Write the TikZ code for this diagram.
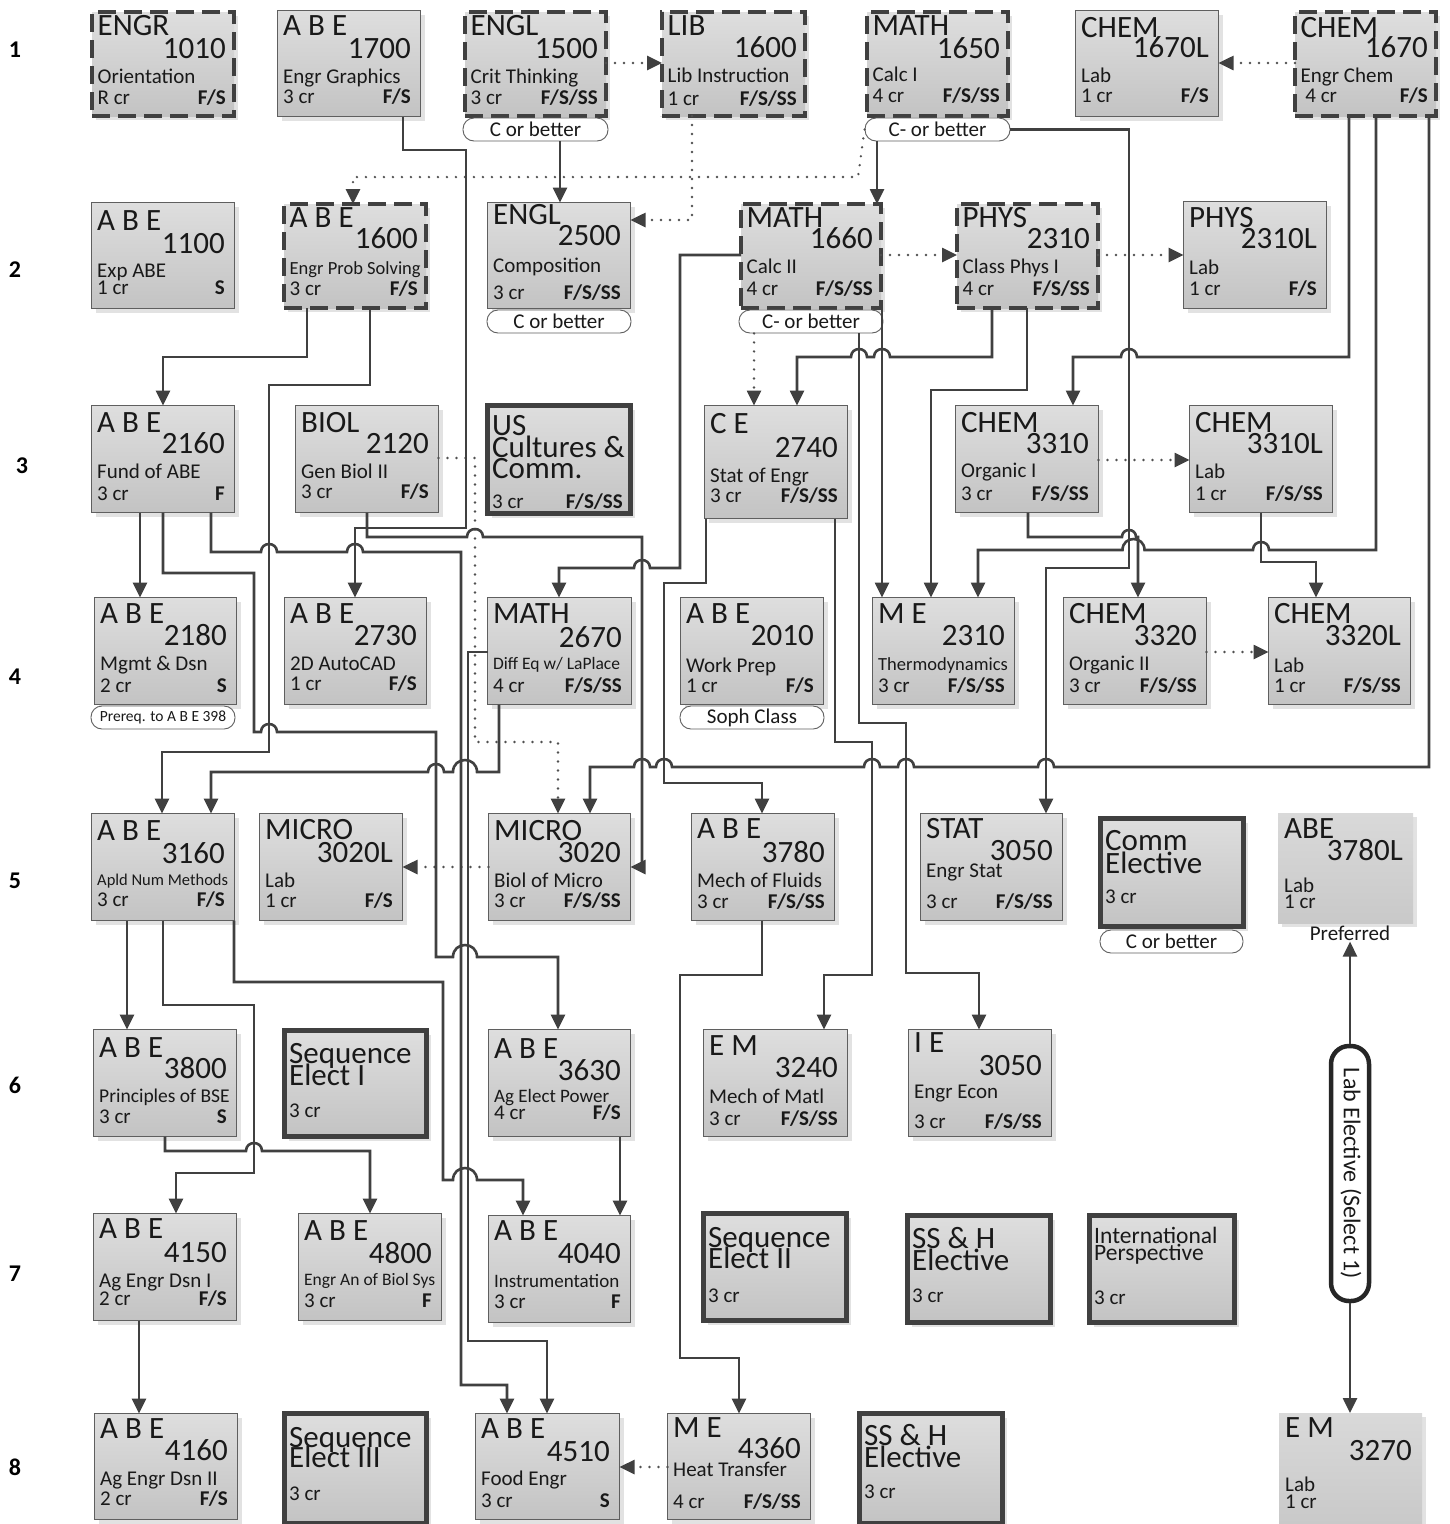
\documentclass[tikz,border=0pt]{standalone}
\usepackage{fontspec}
\setmainfont{Carlito}
\usetikzlibrary{arrows.meta,shadows}
\definecolor{dk}{HTML}{404040}
\definecolor{bd}{HTML}{5F5F5F}
\definecolor{btop}{HTML}{DEDEDE}
\definecolor{bbot}{HTML}{C3C3C3}
\definecolor{ntop}{HTML}{D9D9D9}
\definecolor{nbot}{HTML}{C9C9C9}
\definecolor{shad}{HTML}{E2E2E2}
\definecolor{dotc}{HTML}{505050}
\newcommand\fbig{\fontsize{31}{31}\selectfont}
\newcommand\felec{\fontsize{31}{31}\selectfont}
\newcommand\fintl{\fontsize{23.5}{23.5}\selectfont}
\newcommand\fdesc{\fontsize{21}{21}\selectfont}
\newcommand\fsm{\fontsize{17.5}{17.5}\selectfont}
\newcommand\fsa{\fontsize{16.5}{16.5}\selectfont}
\newcommand\fsb{\fontsize{18.5}{18.5}\selectfont}
\newcommand\fsc{\fontsize{19.5}{19.5}\selectfont}
\newcommand\fmid{\fontsize{19}{19}\selectfont}
\newcommand\fcr{\fontsize{21}{21}\selectfont}
\newcommand\fsem{\fontsize{21}{21}\selectfont\bfseries}
\newcommand\fpill{\fontsize{21}{21}\selectfont}
\newcommand\fpre{\fontsize{15.5}{15.5}\selectfont}
\newcommand\frow{\fontsize{24}{24}\selectfont\bfseries}
\newcommand\flab{\fontsize{24}{24}\selectfont}
\tikzset{
 boxbase/.style={rectangle, inner sep=0pt, outer sep=0pt, anchor=north west, top color=btop, bottom color=bbot,
   drop shadow={shadow xshift=4pt, shadow yshift=-4pt, fill=shad, opacity=1}},
 plainbox/.style={boxbase, draw=bd, line width=1pt},
 dashbox/.style={boxbase, draw=dk, line width=4pt, dash pattern=on 18pt off 8pt},
 thickbox/.style={boxbase, draw=dk, line width=5pt},
 nobox/.style={boxbase, top color=ntop, bottom color=nbot},
 txt/.style={anchor=base west, inner sep=0pt, text=black!90},
 conn/.style={draw=dk, line width=2.6pt, -{Triangle[length=15pt,width=14pt]}},
 dotconn/.style={draw=dotc, line width=2.6pt, line cap=round, dash pattern=on 0pt off 9pt, -{Triangle[length=15pt,width=14pt,color=dk]}},
 pill/.style={draw=bd, line width=0.9pt, fill=white, rounded corners=11pt, minimum height=23pt, inner sep=0pt, font=\fpill, text=black!90},
 labpill/.style={draw=black!85, line width=4.5pt, fill=white, rounded corners=18pt, minimum width=38pt, minimum height=255pt, inner sep=0pt},
}
\pgfkeys{/crs/.is family, /crs,
 d/.store in=\cD, n/.store in=\cN, t/.store in=\cT, c/.store in=\cC, s/.store in=\cS,
 w/.store in=\cW, h/.store in=\cH, st/.store in=\cSt, in/.store in=\cIn, lx/.store in=\cLx,
 oa/.store in=\cOa, ob/.store in=\cOb, oc/.store in=\cOc, od/.store in=\cOd,
 tf/.store in=\cTf, la/.store in=\cLa, lb/.store in=\cLb, lc/.store in=\cLc, lf/.store in=\cLf}
\newcommand\crs[4]{%
\begingroup
\pgfkeys{/crs, d=, n=, t=, c=, s=, w=144, h=108, st=plainbox, in=0.5, lx=6, oa=25, ob=48, oc=73, od=94, tf=\fdesc, #4}%
\pgfmathsetmacro\cWW{\cW-2*\cIn}%
\pgfmathsetmacro\cHH{\cH-2*\cIn}%
\edef\cOpts{\cSt, minimum width=\cWW pt, minimum height=\cHH pt}%
\expandafter\node\expandafter[\cOpts] (#1) at ({#2+\cIn},{#3+\cIn}) {};%
\node[txt, font=\fbig] at ({#2+\cLx},{#3+\cOa}) {\cD};%
\node[txt, anchor=base east, font=\fbig] at ({#2+\cW-10},{#3+\cOb}) {\cN};%
\node[txt, font=\cTf] at ({#2+\cLx},{#3+\cOc}) {\cT};%
\node[txt, font=\fcr] at ({#2+\cLx},{#3+\cOd}) {\cC};%
\node[txt, anchor=base east, font=\fsem] at ({#2+\cW-10},{#3+\cOd}) {\cS};%
\endgroup}
\newcommand\elc[4]{%
\begingroup
\pgfkeys{/crs, la=, lb=, lc=, c=3 cr, s=, w=148, h=112, st=thickbox, in=2.5, oa=35, ob=57, oc=79, od=89, lf=\felec, #4}%
\pgfmathsetmacro\cWW{\cW-2*\cIn}%
\pgfmathsetmacro\cHH{\cH-2*\cIn}%
\edef\cOpts{\cSt, minimum width=\cWW pt, minimum height=\cHH pt}%
\expandafter\node\expandafter[\cOpts] (#1) at ({#2+\cIn},{#3+\cIn}) {};%
\node[txt, font=\cLf] at ({#2+7},{#3+\cOa}) {\cLa};%
\node[txt, font=\cLf] at ({#2+7},{#3+\cOb}) {\cLb};%
\node[txt, font=\cLf] at ({#2+7},{#3+\cOc}) {\cLc};%
\node[txt, font=\fcr] at ({#2+7},{#3+\cOd}) {\cC};%
\node[txt, anchor=base east, font=\fsem] at ({#2+\cW-10},{#3+\cOd}) {\cS};%
\endgroup}
\def\hopl#1#2#3{-- ({#1+#3},#2) .. controls ({#1+#3},{#2-1.33*#3}) and ({#1-#3},{#2-1.33*#3}) .. ({#1-#3},#2)}
\def\hopr#1#2#3{-- ({#1-#3},#2) .. controls ({#1-#3},{#2-1.33*#3}) and ({#1+#3},{#2-1.33*#3}) .. ({#1+#3},#2)}
\begin{document}
\begin{tikzpicture}[x=1pt,y=-1pt]
\useasboundingbox (0,0) rectangle (1450,1524);
\fill[white] (0,0) rectangle (1450,1524);
% row labels
\node[font=\frow] (r1) at (15,50) {1};
\node[font=\frow] (r2) at (15,270) {2};
\node[font=\frow] (r3) at (22,466) {3};
\node[font=\frow] (r4) at (15,677) {4};
\node[font=\frow] (r5) at (15,881) {5};
\node[font=\frow] (r6) at (15,1085) {6};
\node[font=\frow] (r7) at (15,1274) {7};
\node[font=\frow] (r8) at (15,1467) {8};
% row 1
\crs{c1010}{90}{10}{st=dashbox,in=2,lx=7.5,w=146,h=108,d=ENGR,n=1010,t=Orientation,c=R cr,s=F/S}
\crs{c1700}{277}{10}{w=144,h=107,d=A B E,n=1700,t=Engr Graphics,c=3 cr,s=F/S,od=93}
\crs{c1500}{463}{10}{st=dashbox,in=2,lx=7.5,w=145,h=108,d=ENGL,n=1500,t=Crit Thinking,c=3 cr,s=F/S/SS}
\crs{c1600L}{660}{10}{st=dashbox,in=2,lx=7.5,w=147,h=108,d=LIB,n=1600,t=Lib Instruction,c=1 cr,s=F/S/SS,ob=47,oc=72,od=95}
\crs{c1650}{865}{10}{st=dashbox,in=2,lx=7.5,w=145,h=108,d=MATH,n=1650,t=Calc I,c=4 cr,s=F/S/SS,oc=71,od=92}
\crs{c1670L}{1075}{10}{w=144,h=107,d=CHEM,n=1670L,t=Lab,c=1 cr,s=F/S,oa=27,ob=47,oc=72,od=92}
\crs{c1670}{1293}{10}{st=dashbox,in=2,lx=7.5,w=145,h=108,d=CHEM,n=1670,t=Engr Chem,c=\ 4 cr,s=F/S,oa=27,ob=47,oc=72,od=92}
% row 2
\crs{c1100}{91}{202}{w=144,h=107,d=A B E,n=1100,t=Exp ABE,c=1 cr,s=S,oa=28,ob=51,oc=75,od=92}
\crs{c1600}{282}{202}{st=dashbox,in=2,lx=7.5,w=146,h=108,d=A B E,n=1600,t=Engr Prob Solving,tf=\fsb,c=3 cr,s=F/S,oa=25,ob=46,oc=72,od=93}
\crs{c2500}{487}{202}{w=144,h=107,d=ENGL,n=2500,t=Composition,c=3 cr,s=F/S/SS,oa=22,ob=43,oc=70,od=97}
\crs{c1660}{739}{202}{st=dashbox,in=2,lx=7.5,w=144,h=108,d=MATH,n=1660,t=Calc II,c=4 cr,s=F/S/SS,ob=46,oc=71,od=93}
\crs{c2310}{955}{202}{st=dashbox,in=2,lx=7.5,w=145,h=108,d=PHYS,n=2310,t=Class Phys I,c=4 cr,s=F/S/SS,ob=46,oc=71,od=93}
\crs{c2310L}{1183}{201}{w=144,h=108,d=PHYS,n=2310L,t=Lab,c=1 cr,s=F/S,oa=26,ob=47,oc=73,od=94}
% row 3
\crs{c2160}{91}{405}{d=A B E,n=2160,t=Fund of ABE,c=3 cr,s=F,oa=27,ob=48,oc=73,od=95}
\crs{c2120}{295}{405}{d=BIOL,n=2120,t=Gen Biol II,c=3 cr,s=F/S,oa=27,ob=48,oc=73,od=93}
\elc{cUS}{485}{403}{w=148,h=113,la=US,lb=Cultures \&,lc=Comm.,c=3 cr,s=F/S/SS,oa=32,ob=54,oc=75,od=105}
\crs{c2740}{704}{405}{h=114,d=C E,n=2740,t=Stat of Engr,c=3 cr,s=F/S/SS,oa=28,ob=52,oc=77,od=97}
\crs{c3310}{955}{405}{d=CHEM,n=3310,t=Organic I,c=3 cr,s=F/S/SS,oa=27,ob=48,oc=72,od=95}
\crs{c3310L}{1189}{405}{d=CHEM,n=3310L,t=Lab,c=1 cr,s=F/S/SS,oa=27,ob=48,oc=73,od=95}
% row 4
\crs{c2180}{94}{597}{w=143,d=A B E,n=2180,t=Mgmt \& Dsn,c=2 cr,s=S,oa=26,ob=48,oc=73,od=95}
\crs{c2730}{284}{597}{w=143,d=A B E,n=2730,t=2D AutoCAD,c=1 cr,s=F/S,oa=26,ob=48,oc=73,od=93}
\crs{c2670}{487}{597}{w=145,d=MATH,n=2670,t=Diff Eq w/ LaPlace,tf=\fsm,c=4 cr,s=F/S/SS,oa=26,ob=50,oc=72,od=95}
\crs{c2010}{680}{597}{d=A B E,n=2010,t=Work Prep,c=1 cr,s=F/S,oa=26,ob=48,oc=75,od=95}
\crs{c2310M}{872}{597}{w=143,d=M E,n=2310,t=Thermodynamics,tf=\fsb,c=3 cr,s=F/S/SS,oa=26,ob=48,oc=73,od=95}
\crs{c3320}{1063}{597}{d=CHEM,n=3320,t=Organic II,c=3 cr,s=F/S/SS,oa=26,ob=48,oc=73,od=95}
\crs{c3320L}{1268}{597}{w=143,d=CHEM,n=3320L,t=Lab,c=1 cr,s=F/S/SS,oa=26,ob=48,oc=75,od=95}
% row 5
\crs{c3160}{91}{813}{d=A B E,n=3160,t=Apld Num Methods,tf=\fsa,c=3 cr,s=F/S,oa=27,ob=50,oc=72,od=93}
\crs{c3020L}{259}{813}{d=MICRO,n=3020L,t=Lab,c=1 cr,s=F/S,oa=26,ob=49,oc=74,od=94}
\crs{c3020}{488}{813}{w=143,d=MICRO,n=3020,t=Biol of Micro,c=3 cr,s=F/S/SS,oa=27,ob=49,oc=74,od=94}
\crs{c3780}{691}{813}{d=A B E,n=3780,t=Mech of Fluids,c=3 cr,s=F/S/SS,oa=25,ob=49,oc=74,od=95}
\crs{c3050S}{920}{813}{w=143,d=STAT,n=3050,t=Engr Stat,c=3 cr,s=F/S/SS,oa=25,ob=47,oc=64,od=95}
\elc{cComm}{1098}{816}{w=148,h=113,la=Comm,lb=Elective,c=3 cr,oa=34,ob=57,od=87}
\crs{c3780L}{1278}{813}{st=nobox,in=0,w=135,h=110,d=ABE,n=3780L,t=Lab,c=1 cr,oa=25,ob=47,oc=79,od=95}
% row 6
\crs{c3800}{93}{1029}{d=A B E,n=3800,t=Principles of BSE,tf=\fsc,c=3 cr,s=S,oa=28,ob=49,oc=73,od=94}
\elc{cSeq1}{282}{1028}{w=147,h=111,la=Sequence,lb=Elect I,oa=35,ob=57,od=89}
\crs{c3630}{488}{1029}{w=143,d=A B E,n=3630,t=Ag Elect Power,tf=\fmid,c=4 cr,s=F/S,oa=29,ob=51,oc=73,od=90}
\crs{c3240}{703}{1029}{w=145,d=E M,n=3240,t=Mech of Matl,c=3 cr,s=F/S/SS,oa=26,ob=48,oc=74,od=96}
\crs{c3050I}{908}{1029}{d=I E,n=3050,t=Engr Econ,c=3 cr,s=F/S/SS,oa=23,ob=46,oc=69,od=99}
% row 7
\crs{c4150}{93}{1213}{d=A B E,n=4150,t=Ag Engr Dsn I,c=2 cr,s=F/S,oa=25,ob=49,oc=74,od=92}
\crs{c4800}{298}{1213}{d=A B E,n=4800,t=Engr An of Biol Sys,tf=\fsm,c=3 cr,s=F,oa=27,ob=50,oc=72,od=94}
\crs{c4040}{488}{1215}{w=143,d=A B E,n=4040,t=Instrumentation,tf=\fmid,c=3 cr,s=F,oa=25,ob=48,oc=72,od=93}
\elc{cSeq2}{701}{1211}{w=148,h=112,la=Sequence,lb=Elect II,oa=36,ob=57,od=91}
\elc{cSSH1}{905}{1213}{w=148,h=112,la=SS \& H,lb=Elective,oa=35,ob=57,od=89}
\elc{cIntl}{1087}{1213}{w=150,h=112,la=International,lb=Perspective,lf=\fintl,oa=30,ob=47,od=91}
% row 8
\crs{c4160}{94}{1413}{h=107,d=A B E,n=4160,t=Ag Engr Dsn II,c=2 cr,s=F/S,oa=25,ob=47,oc=72,od=92}
\elc{cSeq3}{282}{1411}{w=147,h=115,la=Sequence,lb=Elect III,oa=36,ob=56,od=89}
\crs{c4510}{475}{1413}{w=145,h=107,d=A B E,n=4510,t=Food Engr,c=3 cr,s=S,oa=25,ob=48,oc=72,od=94}
\crs{c4360}{667}{1413}{h=107,d=M E,n=4360,t=Heat Transfer,c=4 cr,s=F/S/SS,oa=24,ob=45,oc=63,od=95}
\elc{cSSH2}{857}{1411}{w=148,h=115,la=SS \& H,lb=Elective,oa=34,ob=56,od=87}
\crs{c3270}{1279}{1413}{st=nobox,in=0,w=143,h=111,d=E M,n=3270,t=Lab,c=1 cr,oa=24,ob=47,oc=78,od=95}
% pills
\node[pill, minimum width=145pt] (p1500) at (535.5,129.5) {C or better};
\node[pill, minimum width=145pt] (p1650) at (937.5,129.5) {C- or better};
\node[pill, minimum width=144pt] (p2500) at (559,321.5) {C or better};
\node[pill, minimum width=144pt] (p1660) at (811,321.5) {C- or better};
\node[pill, minimum width=144pt, font=\fpre] (p2180) at (163,717.5) {Prereq. to A B E 398};
\node[pill, minimum width=144pt] (p2010) at (752,717.5) {Soph Class};
\node[pill, minimum width=143pt] (pComm) at (1171.5,941.5) {C or better};
\node[labpill] (pLab) at (1350,1173.5) {};
\node[rotate=-90, font=\flab, inner sep=0pt, text=black!90] (tLab) at (1351,1173.5) {Lab Elective (Select 1)};
\node[font=\fpill, inner sep=1pt, text=black!90] (pref) at (1350,933) {Preferred};
% dotted connectors
\draw[dotconn] (c1500.east |- 0,63) -- (c1600L.west |- 0,63);
\draw[dotconn] (c1600L.south -| 692,0) -- (692,220) -- (c2500.east |- 0,220);
\draw[dotconn] (p1650.west) -- (858,177) -- (353,177) -- (c1600.north -| 353,0);
\draw[dotconn] (c1660.east |- 0,255) -- (c2310.west |- 0,255);
\draw[dotconn] (c2310.east |- 0,255) -- (c2310L.west |- 0,255);
\draw[dotconn] (c1670.west |- 0,63) -- (c1670L.east |- 0,63);
\draw[dotconn] (p1660.south -| 754,0) -- (c2740.north -| 754,0);
\draw[dotconn] (c3310.east |- 0,460) -- (c3310L.west |- 0,460);
\draw[dotconn] (c3320.east |- 0,652) -- (c3320L.west |- 0,652);
\draw[dotconn] (c2120.east |- 0,458) -- (475,458) -- (475,742) -- (558,742) -- (c3020.north -| 558,0);
\draw[dotconn] (c3020.west |- 0,867) -- (c3020L.east |- 0,867);
\draw[dotconn] (c4360.west |- 0,1467) -- (c4510.east |- 0,1467);
% solid connectors
\draw[conn] (c1700.south -| 403,0) |- (466,150) -- (466,528) -| (c2730.north -| 355,0);
\draw[conn] (p1500.south -| 560,0) -- (c2500.north -| 560,0);
\draw[conn] (p1650.south -| 877,0) -- (c1660.north -| 877,0);
\draw[conn] (p1650.east) -| (1129,568) -- (1046,568) -- (c3050S.north -| 1046,0);
\draw[conn] (c1660.west |- 0,255) -| (680,568) \hopl{642}{568}{8} -- (559,568) -- (c2670.north -| 559,0);
\draw[conn] (c1660.south -| 882,0) -- (c2310M.north -| 882,0);
\draw[conn] (p1660.south -| 859,0) -- (859,723) -- (906,723) -- (906,973) -- (979,973) -- (c3050I.north -| 979,0);
\draw[conn] (c2740.south -| 835,0) -- (835,742) -- (872,742) -- (872,975) -- (824,975) -- (c3240.north -| 824,0);
\draw[conn] (c2740.south -| 706,0) -- (706,583) -- (664,583) -- (664,783) -- (762,783) -- (c3780.north -| 762,0);
\draw[conn] (c2310.south -| 992,0) -- (992,357) \hopl{882}{357}{8} \hopl{859}{357}{8} -- (797,357) -- (c2740.north -| 797,0);
\draw[conn] (c2310.south -| 1027,0) -- (1027,390) -- (931,390) -- (c2310M.north -| 931,0);
\draw[conn] (c1670.south -| 1349,0) -- (1349,357) \hopl{1129}{357}{8} -- (1073,357) -- (c3310.north -| 1073,0);
\draw[conn] (c1670.south -| 1376,0) -- (1376,550) \hopl{1261}{550}{8} \hopl{1133.5}{550}{11} -- (978,550) -- (c2310M.north -| 978,0);
\draw[conn] (c1670.south -| 1429,0) -- (1429,767) \hopl{1046}{767}{8} \hopl{906}{767}{8} \hopl{872}{767}{8} \hopl{664}{767}{8} \hopl{642}{767}{8} -- (590,767) -- (c3020.north -| 590,0);
\draw[conn] (c3310.south -| 1028,0) -- (1028,537) \hopr{1129}{537}{7} -- (1138,537) -- (c3320.north -| 1138,0);
\draw[conn] (c3310L.south -| 1261,0) -- (1261,562) -- (1316,562) -- (c3320L.north -| 1316,0);
\draw[conn] (c1600.south -| 307,0) -- (307,357) -- (163,357) -- (c2160.north -| 163,0);
\draw[conn] (c1600.south -| 370,0) -- (370,385) -- (269,385) -- (269,752) -- (162,752) -- (c3160.north -| 162,0);
\draw[conn] (c2160.south -| 140,0) -- (c2180.north -| 140,0);
\draw[conn] (c2160.south -| 163,0) -- (163,573) -- (254,573) -- (254,732) \hopr{269}{732}{8} -- (436,732) -- (436,957) \hopr{465}{957}{12} -- (558,957) -- (c3630.north -| 558,0);
\draw[conn] (c2160.south -| 211,0) -- (211,552) \hopr{269}{552}{8} \hopr{355}{552}{8} -- (461,552) -- (461,1385) -- (507,1385) -- (c4510.north -| 507,0);
\draw[conn] (c2670.west |- 0,652) -- (468,652) -- (468,1341) -- (547,1341) -- (c4510.north -| 547,0);
\draw[conn] (c2670.south -| 499,0) -- (499,772) \hopl{465}{772}{12} \hopl{436}{772}{8} -- (211,772) -- (c3160.north -| 211,0);
\draw[conn] (c2120.south -| 367,0) -- (367,537) \hopr{475}{537}{8} -- (642,537) -- (642,867) -- (c3020.east |- 0,867);
\draw[conn] (c3160.south -| 127,0) -- (c3800.north -| 127,0);
\draw[conn] (c3160.south -| 163,0) -- (163,1005) -- (254,1005) -- (254,1173) -- (176,1173) -- (c4150.north -| 176,0);
\draw[conn] (c3160.south -| 234,0) -- (234,982) -- (443,982) -- (443,1180) \hopr{465}{1180}{12} -- (523,1180) -- (c4040.north -| 523,0);
\draw[conn] (c3800.south -| 165,0) -- (165,1151) \hopr{254}{1151}{8} -- (370,1151) -- (c4800.north -| 370,0);
\draw[conn] (c4150.south -| 139,0) -- (c4160.north -| 139,0);
\draw[conn] (c3630.south -| 620,0) -- (c4040.north -| 620,0);
\draw[conn] (c3780.south -| 762,0) -- (762,975) -- (680,975) -- (680,1358) -- (739,1358) -- (c4360.north -| 739,0);
\draw[conn] (pLab.north) -- (pref.south);
\draw[conn] (pLab.south) -- (c3270.north -| 1350,0);
\end{tikzpicture}
\end{document}
